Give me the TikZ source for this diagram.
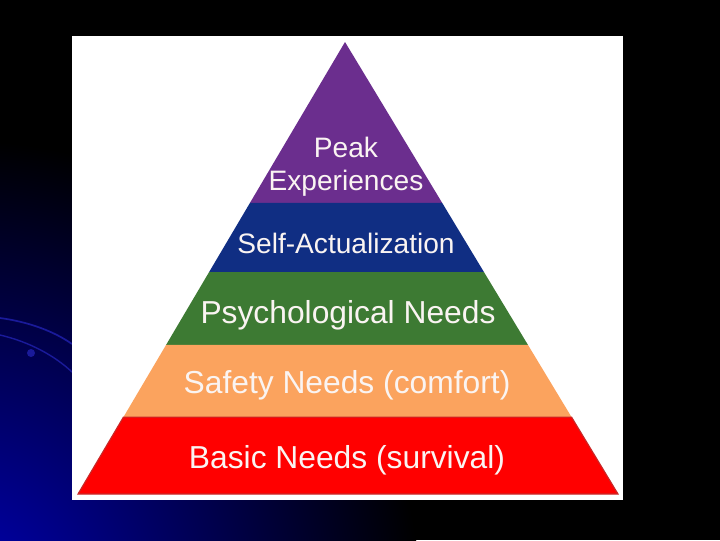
\documentclass[tikz,border=0pt]{standalone}
\usepackage{fontspec}
\setmainfont{Liberation Sans}
\usetikzlibrary{calc}
\definecolor{peakpurple}{HTML}{6B2E8E}
\definecolor{selfblue}{HTML}{102E83}
\definecolor{psychgreen}{HTML}{3D7A33}
\definecolor{safeorange}{HTML}{FBA35E}
\definecolor{basicred}{HTML}{FF0000}
\definecolor{edgered}{HTML}{C82828}
\definecolor{tiertext}{HTML}{FAF4F2}
\definecolor{deepblue}{HTML}{0000B4}
\definecolor{swirl}{HTML}{1A1A9A}

\begin{document}
\begin{tikzpicture}[x=0.025cm,y=-0.025cm,
    tier/.style={text=tiertext,align=center,inner sep=0pt,anchor=base,
                 font=\fontsize{22.6}{24}\selectfont},
    toptier/.style={tier,font=\fontsize{20}{23.4}\selectfont}]
  \useasboundingbox (0,0) rectangle (720,540);
  % backdrop
  \fill[black] (0,0) rectangle (720,540);
  \begin{scope}
    \clip (0,0) rectangle (720,540);
    \shade[inner color=deepblue,outer color=black] (-40,600) circle (460);
    \draw[swirl,line width=1.2pt] (0,318) .. controls (30,322) and (55,332) .. (72,344);
    \draw[swirl,line width=1pt] (0,335) .. controls (30,342) and (55,356) .. (72,372);
    \fill[swirl] (31,353) circle (4);
  \end{scope}
  \fill[white] (72,36) rectangle (623,500);

  % pyramid corners
  \coordinate (apex) at (345,42);
  \coordinate (bl) at (78,494);
  \coordinate (br) at (618,494);

  \fill[peakpurple] (apex) -- ($(apex)!0.356!(bl)$) -- ($(apex)!0.356!(br)$) -- cycle;
  \fill[selfblue] ($(apex)!0.356!(bl)$) -- ($(apex)!0.509!(bl)$)
    -- ($(apex)!0.509!(br)$) -- ($(apex)!0.356!(br)$) -- cycle;
  \fill[psychgreen] ($(apex)!0.509!(bl)$) -- ($(apex)!0.670!(bl)$)
    -- ($(apex)!0.670!(br)$) -- ($(apex)!0.509!(br)$) -- cycle;
  \fill[safeorange] ($(apex)!0.670!(bl)$) -- ($(apex)!0.830!(bl)$)
    -- ($(apex)!0.830!(br)$) -- ($(apex)!0.670!(br)$) -- cycle;
  \fill[basicred,draw=edgered,line width=0.8pt] ($(apex)!0.830!(bl)$) -- (bl)
    -- (br) -- ($(apex)!0.830!(br)$) -- cycle;

  % labels
  \node[toptier] (peak)  at (346,190) {Peak\\Experiences};
  \node[toptier] (self)  at (346,253) {Self-Actualization};
  \node[tier]    (psych) at (348,323) {Psychological Needs};
  \node[tier]    (safe)  at (347,393) {Safety Needs (comfort)};
  \node[tier]    (basic) at (347,468) {Basic Needs (survival)};
\end{tikzpicture}
\end{document}
